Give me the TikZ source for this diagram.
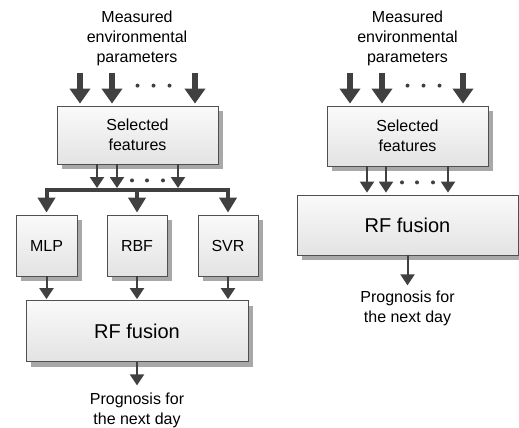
\documentclass[tikz,border=0pt]{standalone}
\usepackage{fontspec}
\setmainfont{Liberation Sans}
\usetikzlibrary{positioning,arrows.meta,shadows,calc}
\definecolor{arrgray}{HTML}{404040}
\definecolor{boxline}{HTML}{505050}
\definecolor{shadowgray}{HTML}{A8A8A8}

\begin{document}
\begin{tikzpicture}[
    x=1pt, y=-1pt,
    font=\fontsize{16}{20}\selectfont,
    box/.style={
        draw=boxline,
        line width=0.8pt,
        top color=black!2,
        bottom color=black!11,
        drop shadow={shadow xshift=5pt, shadow yshift=-5pt, fill=shadowgray, opacity=1},
        align=center,
        inner sep=0pt
    },
    model/.style={box, minimum width=60pt, minimum height=61pt},
    fusion/.style={box, minimum height=61pt, font=\fontsize{20}{24}\selectfont},
    txt/.style={align=center, inner sep=0pt},
    bigarr/.style={-{Triangle[width=20pt,length=15pt]}, line width=6pt, draw=arrgray},
    busarr/.style={-{Triangle[width=17pt,length=15pt]}, line width=4pt, draw=arrgray},
    thinarr/.style={-{Triangle[width=14pt,length=11pt]}, line width=2pt, draw=arrgray},
    bus/.style={line width=4pt, draw=arrgray, line cap=rect}
]
\useasboundingbox (0,0) rectangle (519,428);

% LEFT: three models, then fusion
\node[txt] (meas1) at (137,38) {Measured\\environmental\\parameters};
\node[box, minimum width=161pt, minimum height=58pt] (sel1) at (137.5,135) {Selected\\features};

\foreach \dx in {-57.5,-25.5,57.5}
    \draw[bigarr] ($(sel1.north |- meas1.south)+(\dx,7)$) -- ($(sel1.north)+(\dx,-2)$);
\foreach \dx in {0,16,32}
    \fill[arrgray] ($(sel1.north)+(\dx,-20)$) circle[radius=2pt];

\coordinate (bus1) at (137,190);
\foreach \dx in {-40.5,-20.5,40.5}
    \draw[thinarr] ($(sel1.south)+(\dx,0)$) -- ($(sel1.south |- bus1)+(\dx,-2)$);
\foreach \dx in {-5.5,9.5,25.5}
    \fill[arrgray] ($(sel1.south)+(\dx,16)$) circle[radius=2pt];

\node[model, minimum width=61pt] (mlp) at (46.5,245.5) {MLP};
\node[model] (rbf) at (137,245.5) {RBF};
\node[model] (svr) at (228,245.5) {SVR};

\draw[bus] (bus1 -| mlp) -- (bus1 -| svr);
\foreach \m in {mlp,rbf,svr}
    \draw[busarr] (bus1 -| \m) -- ($(\m.north)+(0,-2)$);

\node[fusion, minimum width=222pt] (fus1) at (137,331) {RF fusion};
\foreach \m in {mlp,rbf,svr}
    \draw[thinarr] (\m.south) -- ($(\m.south |- fus1.north)+(0,-1)$);

\node[txt] (prog1) at (137,410) {Prognosis for\\the next day};
\draw[thinarr] (fus1.south) -- ($(prog1.north)+(0,-7)$);

% RIGHT: fusion only
\node[txt] (meas2) at (407.5,38) {Measured\\environmental\\parameters};
\node[box, minimum width=161pt, minimum height=60pt] (sel2) at (407.5,136) {Selected\\features};

\foreach \dx in {-57.5,-25.5,55.5}
    \draw[bigarr] ($(sel2.north |- meas2.south)+(\dx,7)$) -- ($(sel2.north)+(\dx,-2)$);
\foreach \dx in {0,16,32}
    \fill[arrgray] ($(sel2.north)+(\dx,-20)$) circle[radius=2pt];

\node[fusion, minimum width=221pt, minimum height=60pt] (fus2) at (407.5,225) {RF fusion};
\foreach \dx in {-40.5,-21.5,40.5}
    \draw[thinarr] ($(sel2.south)+(\dx,0)$) -- ($(sel2.south |- fus2.north)+(\dx,-2)$);
\foreach \dx in {-5.5,9.5,25.5}
    \fill[arrgray] ($(sel2.south)+(\dx,16)$) circle[radius=2pt];

\node[txt] (prog2) at (407.5,308) {Prognosis for\\the next day};
\draw[thinarr] (fus2.south) -- ($(prog2.north)+(0,-5)$);

\end{tikzpicture}
\end{document}
